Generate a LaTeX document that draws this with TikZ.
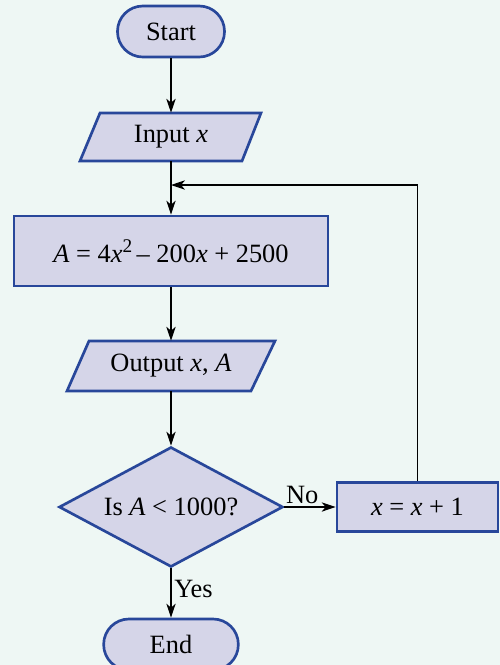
\documentclass[tikz,border=0pt]{standalone}
\usepackage{fontspec}
\setmainfont{Liberation Serif}
\usetikzlibrary{shapes.geometric,arrows.meta}
\definecolor{bgcol}{HTML}{EEF7F4}
\definecolor{boxfill}{HTML}{D5D5E8}
\definecolor{boxline}{HTML}{28479A}
\begin{document}
\begin{tikzpicture}[x=0.75pt,y=-0.75pt,
  font=\fontsize{19.8}{23}\selectfont,
  term/.style={rectangle, draw=boxline, fill=boxfill, line width=2pt, rounded corners=19pt,
    minimum width=80.25pt, minimum height=38.25pt, inner sep=0pt},
  proc/.style={rectangle, draw=boxline, fill=boxfill, line width=2pt, inner sep=0pt},
  iobox/.style={draw=boxline, fill=boxfill, line width=2pt, line join=miter},
  iotext/.style={inner sep=0pt, minimum width=100pt},
  dec/.style={diamond, aspect=1.85, draw=boxline, fill=boxfill, line width=2pt,
    minimum width=168pt, minimum height=90pt, inner sep=0pt},
  flow/.style={-{Stealth[length=10.5pt,width=7pt,inset=3pt]}, line width=0.9pt},
  lbl/.style={inner sep=2pt}]
\fill[bgcol] (0,0) rectangle (500,665);
\useasboundingbox (0,0) rectangle (500,665);

% shapes
\node[term] (start) at (171,31.5) {Start};

\draw[iobox] (100,113) -- (261,113) -- (242,161) -- (80,161) -- cycle;
\node[iotext, minimum height=36pt] (in) at (171,137) {Input \textit{x}};

\node[proc, minimum width=235.5pt, minimum height=52.5pt] (eq) at (171,251)
  {\textit{A} = 4\textit{x}\raisebox{7.5pt}{\fontsize{14.5}{14.5}\selectfont 2}\,– 200\textit{x} + 2500};

\draw[iobox] (89,341) -- (275,341) -- (251,391) -- (67,391) -- cycle;
\node[iotext, minimum height=37.5pt] (out) at (171,366) {Output \textit{x}, \textit{A}};

\node[dec] (dec) at (171,507) {Is \textit{A} < 1000?};

\node[proc, minimum width=120.75pt, minimum height=36.75pt] (inc) at (417.5,507)
  {\textit{x} = \textit{x} + 1};

\node[term, minimum width=101pt] (end) at (171,644.5) {End};

\coordinate (join) at (171,185);

% connectors
\draw[flow] (start.south) -- (in.north);
\draw[flow] (in.south) -- (eq.north);
\draw[flow] (eq.south) -- (out.north);
\draw[flow] (out.south) -- (dec.north);
\draw[flow] (dec.south) -- node[pos=0.42, right, lbl] {Yes} (end.north);
\draw[flow] (dec.east) -- node[pos=0.35, above, lbl] {No} (inc.west);
\draw[flow] (inc.north) |- (join);
\end{tikzpicture}
\end{document}
